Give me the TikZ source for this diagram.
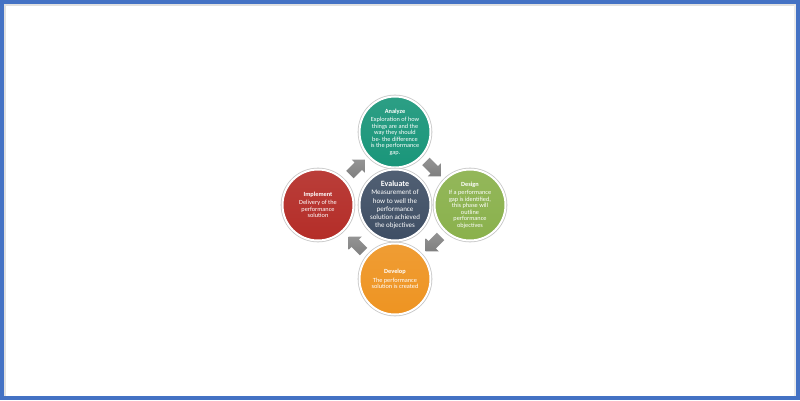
\documentclass[tikz,border=0pt]{standalone}
\usepackage{fontspec}
\setmainfont{Carlito}
\usepackage{xcolor}
\usetikzlibrary{shapes.arrows,shadows}
\definecolor{framecol}{RGB}{68,114,196}
\definecolor{analyzecol}{RGB}{26,150,122}
\definecolor{designcol}{RGB}{138,177,76}
\definecolor{implementcol}{RGB}{180,45,40}
\definecolor{developcol}{RGB}{238,148,34}
\definecolor{evaluatecol}{RGB}{62,78,100}
\definecolor{arrowcol}{RGB}{128,128,128}
\tikzstyle{phase}=[shape=circle, minimum size=71pt, inner sep=0pt, draw=white, line width=2pt,
    preaction={draw=black!22, line width=3.6pt}, drop shadow={opacity=0.2, shadow xshift=0.8pt, shadow yshift=-0.8pt},
    text=white, align=center, font=\fontsize{6.3}{6.5}\selectfont]
\tikzstyle{centre phase}=[style=phase, font=\fontsize{7}{8.2}\selectfont]
\tikzstyle{cycle arrow}=[shape=single arrow, draw=none, top color=arrowcol!85, bottom color=arrowcol,
    minimum height=21pt, inner sep=5pt, single arrow head extend=4pt, single arrow head indent=0pt]
\pgfdeclarelayer{nodelayer}
\pgfdeclarelayer{edgelayer}
\pgfsetlayers{main,edgelayer,nodelayer}

\begin{document}
\begin{tikzpicture}[x=1pt, y=1pt]
    	\fill [framecol] (0, 0) rectangle (800, 400);
    	\fill [white] (4, 4) rectangle (796, 396);
    	\draw [black!12, line width=2pt] (5, 4) -- (5, 395) -- (796, 395);
    	\draw [black!8, line width=1.5pt] (795.2, 395) -- (795.2, 4);
    	\useasboundingbox (0, 0) rectangle (800, 400);
    	\begin{pgfonlayer}{nodelayer}
    		\node [style=phase, top color=analyzecol!92!white, bottom color=analyzecol] (analyze) at (395, 268)
    			{\textbf{Analyze}\\[2pt]Exploration of how\\things are and the\\way they should\\be- the difference\\is the performance\\gap.};
    		\node [style=phase, top color=designcol!92!white, bottom color=designcol] (design) at (470, 195)
    			{\textbf{Design}\\[2pt]If a performance\\gap is identified,\\this phase will\\outline\\performance\\objectives};
    		\node [style=phase, top color=developcol!92!white, bottom color=developcol] (develop) at (395, 121)
    			{\textbf{Develop}\\[2pt]The performance\\solution is created};
    		\node [style=phase, top color=implementcol!92!white, bottom color=implementcol] (implement) at (318, 195)
    			{\textbf{Implement}\\[2pt]Delivery of the\\performance\\solution};
    		\node [style=centre phase, top color=evaluatecol!90!white, bottom color=evaluatecol] (evaluate) at (395, 195)
    			{{\fontsize{8}{9}\selectfont\textbf{Evaluate}}\\Measurement of\\how to well the\\performance\\solution achieved\\the objectives};
    	\end{pgfonlayer}
    	\begin{pgfonlayer}{edgelayer}
    		\node [style=cycle arrow, rotate=45] (a1) at (355.5, 231) {};
    		\node [style=cycle arrow, rotate=-45] (a2) at (431.5, 233) {};
    		\node [style=cycle arrow, rotate=-135] (a3) at (435, 158) {};
    		\node [style=cycle arrow, rotate=135] (a4) at (358, 154) {};
    	\end{pgfonlayer}
\end{tikzpicture}
\end{document}
